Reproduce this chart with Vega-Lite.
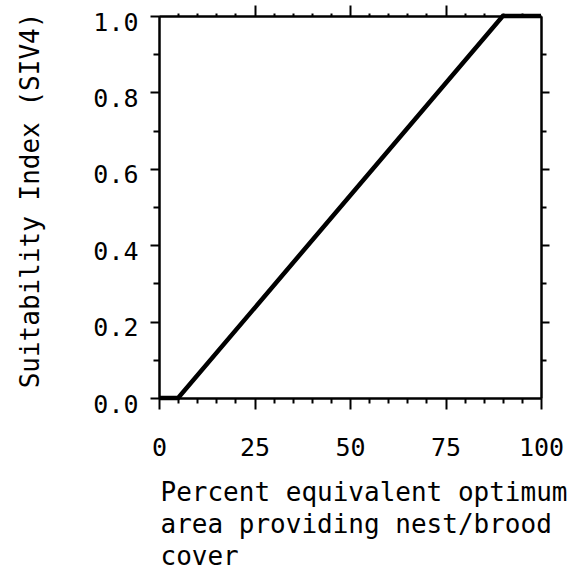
{
  "$schema": "https://vega.github.io/schema/vega-lite/v6.json",
  "autosize": {"type": "none"},
  "padding": {"left": 159, "top": 16, "right": 37, "bottom": 172},
  "width": 382,
  "height": 382,
  "background": "white",
  "view": {"stroke": null},
  "config": {
    "axis": {
      "grid": false,
      "domainColor": "black",
      "domainWidth": 2,
      "tickColor": "black",
      "tickWidth": 2,
      "labelColor": "black",
      "titleColor": "black",
      "titleFontWeight": "normal",
      "labelFlush": false
    }
  },
  "data": {"values": [
    {"x": 0, "y": 0},
    {"x": 5, "y": 0},
    {"x": 90, "y": 1},
    {"x": 100, "y": 1}
  ]},
  "resolve": {"axis": {"x": "independent", "y": "independent"}},
  "layer": [
    {
      "mark": {"type": "line", "color": "black", "strokeWidth": 4.5},
      "encoding": {
        "x": {
          "field": "x", "type": "quantitative",
          "scale": {"domain": [0, 100], "nice": false},
          "axis": {
            "orient": "bottom",
            "values": [0, 25, 50, 75, 100],
            "tickSize": 11,
            "labelFont": "DejaVu Sans Mono",
            "labelFontSize": 25,
            "labelFlush": false,
            "labelBaseline": "alphabetic",
            "labelPadding": 46,
            "title": ["Percent equivalent optimum", "area providing nest/brood", "cover"],
            "titleFont": "DejaVu Sans Mono",
            "titleFontSize": 26,
            "titleAnchor": "start",
            "titleAlign": "left",
            "titleBaseline": "alphabetic",
            "titleLineHeight": 32,
            "titleX": 1,
            "titleY": 102
          }
        },
        "y": {
          "field": "y", "type": "quantitative",
          "scale": {"domain": [0, 1], "nice": false},
          "axis": {
            "orient": "left",
            "values": [0, 0.2, 0.4, 0.6, 0.8, 1.0],
            "format": ".1f",
            "tickSize": 9,
            "labelPadding": 12,
            "labelOffset": 6,
            "labelFlush": false,
            "labelFont": "DejaVu Sans Mono",
            "labelFontSize": 25,
            "title": "Suitability Index (SIV4)",
            "titleFont": "DejaVu Sans Mono",
            "titleFontSize": 26,
            "titleAngle": 270,
            "titleAlign": "center",
            "titleBaseline": "alphabetic",
            "titleX": -121,
            "titleY": 184
          }
        }
      }
    },
    {
      "mark": {"type": "point", "opacity": 0},
      "encoding": {
        "x": {
          "field": "x", "type": "quantitative",
          "axis": {
            "orient": "bottom",
            "values": [5, 10, 15, 20, 30, 35, 40, 45, 55, 60, 65, 70, 80, 85, 90, 95],
            "tickSize": 5,
            "labels": false,
            "title": null
          }
        },
        "y": {
          "field": "y", "type": "quantitative",
          "axis": {
            "orient": "left",
            "values": [0.1, 0.3, 0.5, 0.7, 0.9],
            "tickSize": 6,
            "labels": false,
            "title": null
          }
        }
      }
    },
    {
      "mark": {"type": "point", "opacity": 0},
      "encoding": {
        "x": {
          "field": "x", "type": "quantitative",
          "axis": {
            "orient": "top",
            "values": [25, 50, 75],
            "tickSize": 11,
            "labels": false,
            "title": null
          }
        },
        "y": {
          "field": "y", "type": "quantitative",
          "axis": {
            "orient": "right",
            "values": [0.2, 0.4, 0.6, 0.8],
            "tickSize": 8,
            "labels": false,
            "title": null
          }
        }
      }
    },
    {
      "mark": {"type": "point", "opacity": 0},
      "encoding": {
        "x": {
          "field": "x", "type": "quantitative",
          "axis": {
            "orient": "top",
            "values": [5, 10, 15, 20, 30, 35, 40, 45, 55, 60, 65, 70, 80, 85, 90, 95],
            "tickSize": 3,
            "labels": false,
            "title": null
          }
        },
        "y": {
          "field": "y", "type": "quantitative",
          "axis": {
            "orient": "right",
            "values": [0.1, 0.3, 0.5, 0.7, 0.9],
            "tickSize": 5,
            "labels": false,
            "title": null
          }
        }
      }
    }
  ]
}
